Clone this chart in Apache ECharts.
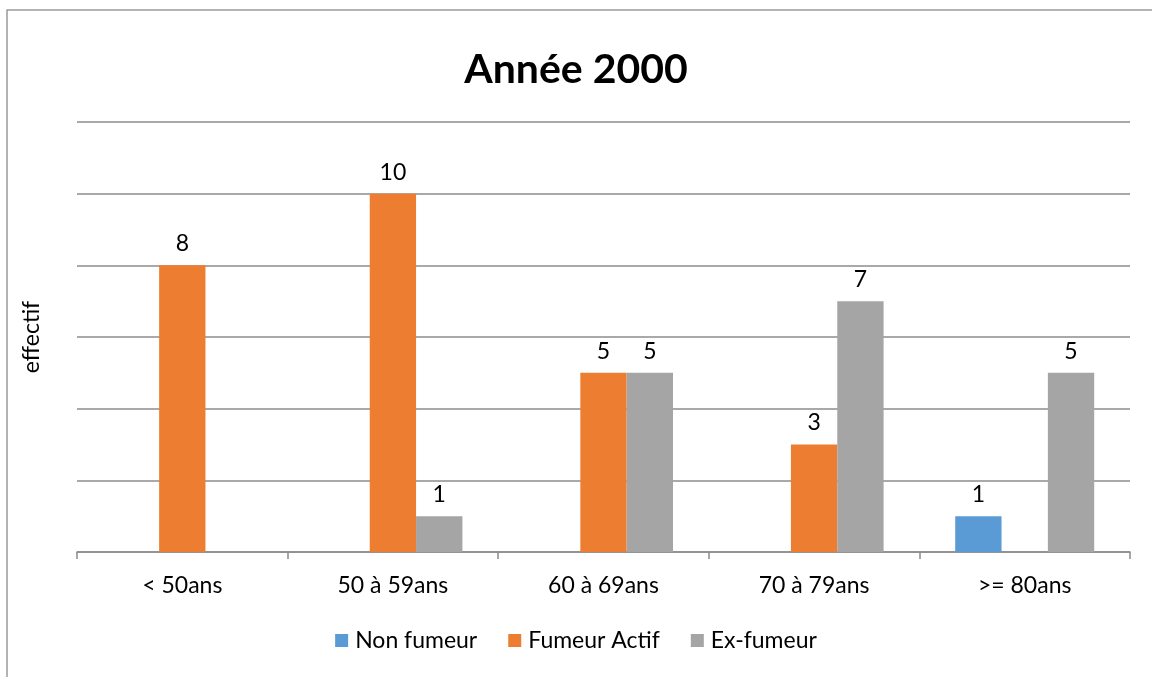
<!DOCTYPE html>
<html>
<head>
<meta charset="utf-8">
<script src="https://cdn.jsdelivr.net/npm/echarts@6/dist/echarts.min.js"></script>
<style>
  html, body { margin: 0; padding: 0; background: #fff; }
  #chart { width: 1152px; height: 677px; }
</style>
</head>
<body>
<div id="chart"></div>
<script>
  // tranches d'age
  const categories = ['< 50ans', '50 à 59ans', '60 à 69ans', '70 à 79ans', '>= 80ans'];
  const nonFumeur = [0, 0, 0, 0, 1];
  const fumeurActif = [8, 10, 5, 3, 0];
  const exFumeur = [0, 1, 5, 7, 5];
  const yTicks = [0, 2, 4, 6, 8, 10, 12];

  const font = 'Lato, "Open Sans", sans-serif';

  function barSeries(name, data, color) {
    return {
      name: name,
      type: 'bar',
      data: data,
      barGap: '0%',
      barCategoryGap: '34%',
      itemStyle: { color: color },
      label: {
        show: true,
        position: 'top',
        distance: 10,
        fontFamily: font,
        fontSize: 23,
        color: '#000',
        formatter: p => (p.value ? p.value : '')
      }
    };
  }

  const chart = echarts.init(document.getElementById('chart'));
  chart.setOption({
    animation: false,
    textStyle: { fontFamily: font },
    graphic: [{
      type: 'rect',
      shape: { x: 7, y: 10, width: 1200, height: 700 },
      style: { fill: 'none', stroke: '#9a9a9a', lineWidth: 1.5 }
    }],
    title: {
      text: 'Année 2000',
      left: 'center',
      top: 44,
      textStyle: { fontFamily: font, fontSize: 41, fontWeight: 'bold', color: '#000' }
    },
    legend: {
      bottom: 20,
      left: 'center',
      itemWidth: 13,
      itemHeight: 13,
      itemGap: 31,
      icon: 'rect',
      textStyle: { fontFamily: font, fontSize: 23, color: '#000', padding: [0, 0, 0, 2] },
      data: ['Non fumeur', 'Fumeur Actif', 'Ex-fumeur']
    },
    grid: { left: 77, right: 22, top: 122, bottom: 125 },
    xAxis: {
      type: 'category',
      data: categories,
      axisLine: { lineStyle: { color: '#8c8c8c', width: 1.5 } },
      axisTick: { show: true, length: 7, lineStyle: { color: '#8c8c8c', width: 1.5 } },
      axisLabel: { fontSize: 23, color: '#000', margin: 22, fontFamily: font }
    },
    yAxis: {
      type: 'value',
      min: yTicks[0],
      max: yTicks[yTicks.length - 1],
      interval: yTicks[1] - yTicks[0],
      name: 'effectif',
      nameLocation: 'middle',
      nameGap: 34,
      nameTextStyle: { fontSize: 23, color: '#000', fontFamily: font },
      axisLabel: { show: false },
      axisLine: { show: false },
      axisTick: { show: false },
      splitLine: { lineStyle: { color: '#8c8c8c', width: 1.5 } }
    },
    series: [
      barSeries('Non fumeur', nonFumeur, '#5B9BD5'),
      barSeries('Fumeur Actif', fumeurActif, '#ED7D31'),
      barSeries('Ex-fumeur', exFumeur, '#A5A5A5')
    ]
  });
</script>
</body>
</html>
